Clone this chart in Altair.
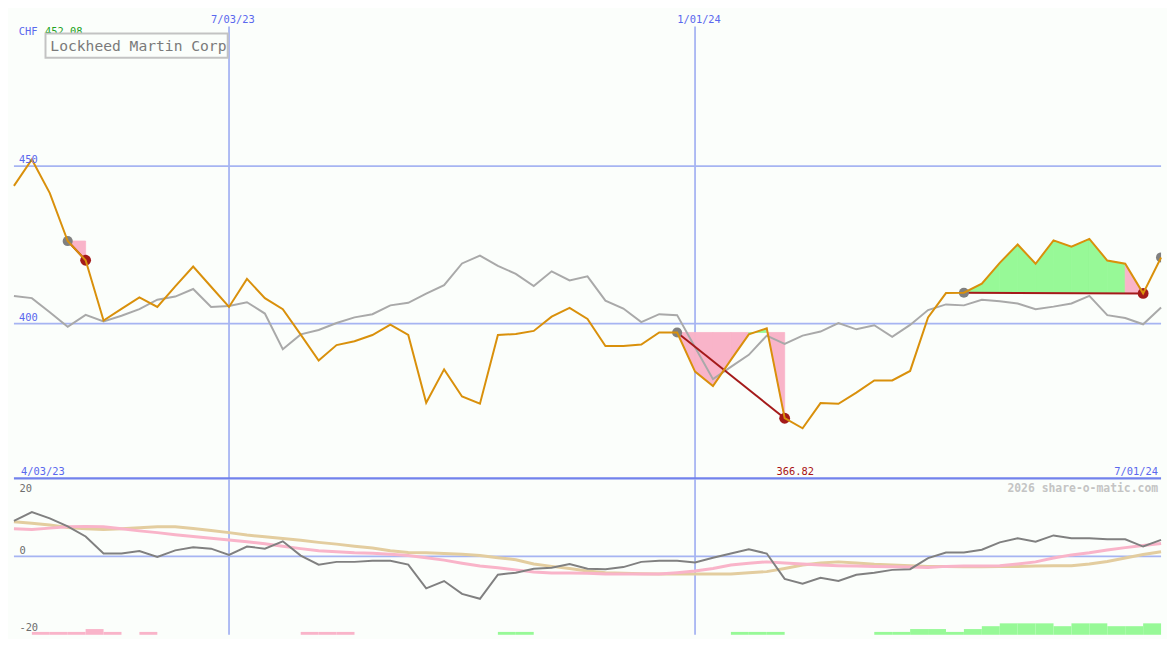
import altair as alt
import pandas as pd

# ---------------- data ----------------
dates = [d.strftime("%Y-%m-%d") for d in pd.date_range("2023-04-10", periods=65, freq="7D")]

price = [443.7, 452.08, 441.4, 426.2, 420.1, 401.0, 404.7, 408.3, 405.3, 411.8,
         418.1, 411.7, 405.3, 414.2, 408.1, 404.6, 396.5, 388.3, 393.2, 394.4,
         396.4, 399.7, 396.4, 374.9, 385.5, 376.9, 374.6, 396.4, 396.7, 397.7,
         402.2, 405.0, 401.5, 392.9, 392.9, 393.4, 397.2, 397.2, 384.8, 380.2,
         388.5, 396.6, 398.5, 370.0, 366.82, 374.8, 374.6, 378.1, 382.0, 382.0,
         385.0, 402.0, 409.7, 409.8, 412.7, 419.3, 425.1, 419.0, 426.4, 424.4,
         426.9, 420.0, 419.0, 409.6, 421.0]

compare = [408.8, 408.1, 403.6, 399.0, 402.8, 400.7, 402.5, 404.6, 407.6, 408.6,
           411.0, 405.3, 405.6, 406.8, 403.2, 391.9, 396.6, 398.0, 400.2, 402.0,
           403.0, 405.8, 406.6, 409.5, 412.2, 419.1, 421.6, 418.3, 415.8, 411.9,
           416.6, 413.7, 415.0, 407.3, 404.8, 400.5, 403.0, 402.7, 392.5, 382.4,
           386.3, 390.1, 396.2, 393.6, 396.2, 397.5, 400.2, 398.2, 399.5, 395.8,
           399.6, 404.3, 406.1, 405.8, 407.6, 407.1, 406.4, 404.6, 405.4, 406.4,
           408.8, 402.7, 401.8, 399.8, 405.1]

macd = [10.2, 12.7, 10.9, 8.6, 5.7, 0.8, 0.8, 1.5, -0.2, 1.7,
        2.6, 2.2, 0.4, 2.8, 2.2, 4.3, 0.2, -2.4, -1.6, -1.6,
        -1.3, -1.3, -2.4, -9.2, -7.1, -10.8, -12.2, -5.3, -4.7, -3.6,
        -3.3, -2.2, -3.6, -3.7, -3.1, -1.6, -1.3, -1.3, -1.8, -0.4,
        0.8, 2.0, 0.8, -6.5, -7.9, -6.2, -7.1, -5.3, -4.7, -3.9,
        -3.7, -0.5, 1.1, 1.1, 1.9, 4.0, 5.2, 4.2, 6.0, 5.2,
        5.2, 4.9, 4.9, 2.8, 4.7]

signal = [7.9, 7.7, 8.1, 8.5, 8.6, 8.5, 7.9, 7.3, 6.8, 6.2,
          5.7, 5.2, 4.7, 4.2, 3.6, 2.9, 2.2, 1.6, 1.3, 1.0,
          0.9, 0.6, 0.2, -0.4, -1.1, -2.0, -2.8, -3.3, -3.9, -4.5,
          -4.8, -4.8, -4.9, -5.1, -5.1, -5.1, -5.1, -4.7, -4.2, -3.5,
          -2.5, -2.0, -1.6, -1.9, -2.2, -2.5, -2.7, -2.8, -2.9, -3.0,
          -3.1, -3.2, -2.9, -2.8, -2.8, -2.7, -2.2, -1.6, -0.5, 0.4,
          1.0, 1.8, 2.5, 3.1, 3.7]

slow = [9.9, 9.5, 9.0, 8.3, 7.9, 7.7, 7.9, 8.2, 8.5, 8.5,
        8.0, 7.4, 6.8, 6.1, 5.6, 5.1, 4.6, 4.0, 3.5, 2.9,
        2.4, 1.6, 1.1, 1.0, 0.8, 0.6, 0.2, -0.4, -1.0, -2.2,
        -2.9, -3.5, -4.2, -4.7, -4.9, -5.0, -5.1, -5.1, -5.1, -5.1,
        -5.1, -4.7, -4.4, -3.5, -2.5, -1.9, -1.6, -1.9, -2.3, -2.5,
        -2.7, -2.9, -2.9, -3.0, -3.0, -2.9, -2.9, -2.8, -2.7, -2.7,
        -2.2, -1.5, -0.5, 0.5, 1.3]

hist = [0, -1, -1, -1, -2, -1, 0, -1, 0, 0,
        0, 0, 0, 0, 0, 0, -1, -1, -1, 0,
        0, 0, 0, 0, 0, 0, 0, 1, 1, 0,
        0, 0, 0, 0, 0, 0, 0, 0, 0, 0,
        1, 1, 1, 0, 0, 0, 0, 0, 1, 1,
        2, 2, 1, 2, 3, 4, 4, 4, 3, 4,
        4, 3, 3, 4, 0]

trades = [(3, 4), (37, 43), (53, 63)]   # (entry index, exit index)
entries = [3, 37, 53, 64]
exits = [4, 43, 63]

price_grid = [450, 400]
ind_grid = [0]
date_grid = ["2023-07-03", "2024-01-01"]
date_grid_labels = ["7/03/23", "1/01/24"]
edge_labels = ["4/03/23", "7/01/24"]
ind_labels = ["20", "0", "-20"]
TITLE = "Lockheed Martin Corp"
CURRENCY = "CHF"
WATERMARK = "2026 share-o-matic.com"

# ---------------- style ----------------
FONT = "DejaVu Sans Mono"
BG = "#fbfefb"
GRID = "#a6b4f2"
DIVIDER = "#7282ec"
LBLUE = "#5a68ee"
ORANGE = "#d9900b"
GREYLINE = "#a9a9a9"
PINK = "#f9b4c9"
GREEN = "#97f997"
DARKRED = "#a41a1a"
TAN = "#e3cd9f"
DARKGREY = "#808080"

W, HT, HB = 1159, 473, 157
PRICE_DOMAIN = [350.6, 499.1]
IND_DOMAIN = [-22.55, 22.1]

xscale = alt.Scale(domain=[alt.DateTime(year=2023, month=4, date=10, utc=True),
                           alt.DateTime(year=2024, month=7, date=1, utc=True)],
                   nice=False, padding=0)
pscale = alt.Scale(domain=PRICE_DOMAIN, nice=False, zero=False, padding=0)
iscale = alt.Scale(domain=IND_DOMAIN, nice=False, zero=False, padding=0)


def X(field="date"):
    return alt.X(f"{field}:T", scale=xscale, axis=None)


df = pd.DataFrame({"date": dates, "price": price, "compare": compare,
                   "macd": macd, "signal": signal, "slow": slow, "hist": hist})
df["next"] = dates[1:] + [dates[-1]]

# trade fills (one area per segment)
rows = []
for t, (e, x) in enumerate(trades):
    level = price[e]
    for k in range(e, x):
        cat = "gain" if price[k + 1] > level else "loss"
        for j in (k, k + 1):
            rows.append({"seg": f"{t}-{k}", "date": dates[j], "price": price[j],
                         "level": level, "cat": cat})
fill_df = pd.DataFrame(rows)

tl_rows = []
for t, (e, x) in enumerate(trades):
    for j in (e, x):
        tl_rows.append({"trade": t, "date": dates[j], "price": price[j]})
tl_df = pd.DataFrame(tl_rows)

entry_df = df.iloc[entries]
exit_df = df.iloc[exits]

imax = price.index(max(price))
imin = price.index(min(price))

# ---------------- top panel ----------------
hgrid = alt.Chart(pd.DataFrame({"level": price_grid})).mark_rule(
    color=GRID, strokeWidth=1.8).encode(y=alt.Y("level:Q", scale=pscale, axis=None))

vgrid_top = alt.Chart(pd.DataFrame({"date": date_grid})).mark_rule(
    color=GRID, strokeWidth=1.8).encode(x=X(), y=alt.value(15.5), y2=alt.value(HT))

divider = alt.Chart(pd.DataFrame({"level": [PRICE_DOMAIN[0]]})).mark_rule(
    color=DIVIDER, strokeWidth=2.2).encode(y=alt.value(HT - 1))

fill_scale = alt.Scale(domain=["gain", "loss"], range=[GREEN, PINK])
fills = alt.Chart(fill_df).mark_area(opacity=1, strokeWidth=0.8).encode(
    x=X(),
    y=alt.Y("price:Q", scale=pscale, axis=None, stack=None),
    y2="level:Q",
    color=alt.Color("cat:N", scale=fill_scale, legend=None),
    stroke=alt.Stroke("cat:N", scale=fill_scale, legend=None),
    detail="seg:N",
)

comp_line = alt.Chart(df).mark_line(color=GREYLINE, strokeWidth=2).encode(
    x=X(), y=alt.Y("compare:Q", scale=pscale, axis=None))

trade_lines = alt.Chart(tl_df).mark_line(color=DARKRED, strokeWidth=2).encode(
    x=X(), y=alt.Y("price:Q", scale=pscale, axis=None), detail="trade:N")

entry_dots = alt.Chart(entry_df).mark_circle(color=DARKGREY, size=105, opacity=1, clip=True).encode(
    x=X(), y=alt.Y("price:Q", scale=pscale, axis=None))
exit_dots = alt.Chart(exit_df).mark_circle(color=DARKRED, size=120, opacity=1, clip=True).encode(
    x=X(), y=alt.Y("price:Q", scale=pscale, axis=None))

price_line = alt.Chart(df).mark_line(color=ORANGE, strokeWidth=2).encode(
    x=X(), y=alt.Y("price:Q", scale=pscale, axis=None))

grid_lbls = alt.Chart(pd.DataFrame({"level": price_grid,
                                    "label": [str(v) for v in price_grid]})).mark_text(
    font=FONT, fontSize=10.5, color=LBLUE, align="left", baseline="alphabetic", dy=-3).encode(
    x=alt.value(5), y=alt.Y("level:Q", scale=pscale, axis=None), text="label:N")

date_lbls = alt.Chart(pd.DataFrame({"date": date_grid, "label": date_grid_labels})).mark_text(
    font=FONT, fontSize=10.5, color=LBLUE, align="center", baseline="alphabetic", dx=4).encode(
    x=X(), y=alt.value(12.3), text="label:N")

cur_lbl = alt.Chart(pd.DataFrame({"t": [CURRENCY]})).mark_text(
    font=FONT, fontSize=10.5, color=LBLUE, align="left", baseline="alphabetic").encode(
    x=alt.value(4.9), y=alt.value(24.3), text="t:N")

max_lbl = alt.Chart(pd.DataFrame({"t": [f"{price[imax]:.2f}"]})).mark_text(
    font=FONT, fontSize=10.5, color="#22a222", align="left", baseline="alphabetic").encode(
    x=alt.value(31.3), y=alt.value(24.3), text="t:N")

start_lbl = alt.Chart(pd.DataFrame({"t": [edge_labels[0]]})).mark_text(
    font=FONT, fontSize=10.5, color=LBLUE, align="left", baseline="alphabetic").encode(
    x=alt.value(7.2), y=alt.value(HT - 4.2), text="t:N")

end_lbl = alt.Chart(pd.DataFrame({"t": [edge_labels[1]]})).mark_text(
    font=FONT, fontSize=10.5, color=LBLUE, align="right", baseline="alphabetic").encode(
    x=alt.value(W - 3), y=alt.value(HT - 4.2), text="t:N")

min_lbl = alt.Chart(pd.DataFrame({"date": [dates[imin]], "t": [f"{price[imin]:.2f}"]})).mark_text(
    font=FONT, fontSize=10.5, color="#aa1414", align="center", baseline="alphabetic", dx=-7.4).encode(
    x=X(), y=alt.value(HT - 4.2), text="t:N")

title_box = alt.Chart(pd.DataFrame({"t": [TITLE]})).mark_rect(
    fill=BG, stroke="#c3c3c3", strokeWidth=2).encode(
    x=alt.value(31.9), x2=alt.value(216), y=alt.value(22.6), y2=alt.value(46.9))

title_txt = alt.Chart(pd.DataFrame({"t": [TITLE]})).mark_text(
    font=FONT, fontSize=14.8, color="#7a7a7a", align="left", baseline="alphabetic").encode(
    x=alt.value(36.8), y=alt.value(40.5), text="t:N")

top = alt.layer(
    hgrid, vgrid_top, fills, comp_line, trade_lines, entry_dots, exit_dots, price_line,
    divider, grid_lbls, date_lbls, cur_lbl, max_lbl, start_lbl, end_lbl, min_lbl,
    title_box, title_txt,
).properties(width=W, height=HT)

# ---------------- bottom panel ----------------
zero_grid = alt.Chart(pd.DataFrame({"level": ind_grid})).mark_rule(
    color=GRID, strokeWidth=1.8).encode(y=alt.Y("level:Q", scale=iscale, axis=None))

vgrid_bot = alt.Chart(pd.DataFrame({"date": date_grid})).mark_rule(
    color=GRID, strokeWidth=1.8).encode(x=X(), y=alt.value(0), y2=alt.value(HB))

slow_line = alt.Chart(df).mark_line(color=TAN, strokeWidth=3).encode(
    x=X(), y=alt.Y("slow:Q", scale=iscale, axis=None))
sig_line = alt.Chart(df).mark_line(color=PINK, strokeWidth=3).encode(
    x=X(), y=alt.Y("signal:Q", scale=iscale, axis=None))
macd_line = alt.Chart(df).mark_line(color=DARKGREY, strokeWidth=2).encode(
    x=X(), y=alt.Y("macd:Q", scale=iscale, axis=None))

ind_layers = alt.layer(zero_grid, vgrid_bot, slow_line, sig_line, macd_line)

bar_df = df[df["hist"] != 0].copy()
bar_df["h"] = bar_df["hist"].abs()
bar_df["cat"] = ["up" if v > 0 else "down" for v in bar_df["hist"]]
bars = alt.Chart(bar_df).mark_rect().encode(
    x=X(), x2="next:T",
    y=alt.Y("h:Q", scale=alt.Scale(domain=[0, 54.33], nice=False, zero=True), axis=None),
    y2=alt.datum(0),
    color=alt.Color("cat:N", scale=alt.Scale(domain=["up", "down"], range=[GREEN, PINK]),
                    legend=None),
)

ind_txt_pos = [12.5, 75.8, 153.1]
ind_txt = alt.layer(*[
    alt.Chart(pd.DataFrame({"t": [lbl]})).mark_text(
        font=FONT, fontSize=10.5, color="#6e6e6e", align="left", baseline="alphabetic").encode(
        x=alt.value(5.5), y=alt.value(yv), text="t:N")
    for lbl, yv in zip(ind_labels, ind_txt_pos)
])

wm = alt.Chart(pd.DataFrame({"t": [WATERMARK]})).mark_text(
    font=FONT, fontSize=11.5, fontWeight="bold", color="#c4c4c4", align="right",
    baseline="alphabetic").encode(x=alt.value(W - 3), y=alt.value(12.5), text="t:N")

bottom = alt.layer(ind_layers, bars, ind_txt, wm).resolve_scale(
    y="independent").properties(width=W, height=HB)

chart = alt.vconcat(top, bottom, spacing=0, bounds="flush").properties(
    padding=0
).configure(background=BG).configure_view(strokeWidth=0)

chart.save("out.html", embed_options={"renderer": "svg", "actions": False})
